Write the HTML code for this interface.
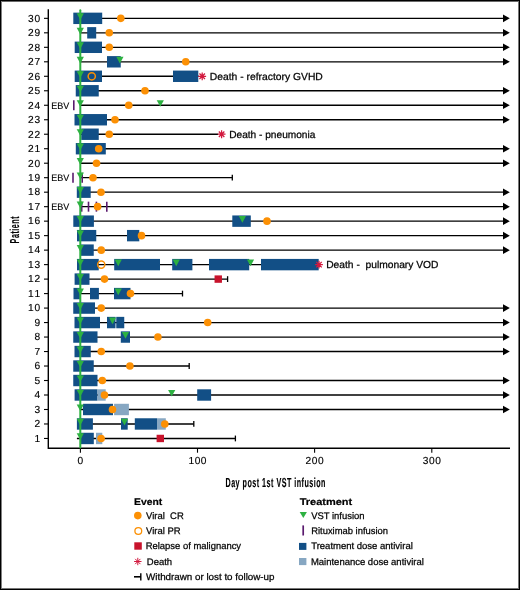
<!DOCTYPE html>
<html><head><meta charset="utf-8"><style>
html,body{margin:0;padding:0;background:#fff;}
body{width:520px;height:590px;overflow:hidden;position:relative;}
#frame{position:absolute;left:0;top:0;width:520px;height:590px;box-sizing:border-box;border-style:solid;border-color:#000;border-width:1.5px 2px 2px 1.3px;}
svg{position:absolute;left:0;top:0;will-change:transform;}
text{font-family:"Liberation Sans",sans-serif;fill:#111;text-rendering:geometricPrecision;}
.t,.lt,.e{fill:#000;stroke:#000;stroke-width:0.25px;}
.e{stroke-width:0.12px;}
.t{font-size:10.2px;}
.e{font-size:9.4px;}
.yl{font-size:10.2px;}
.yl,.xl{stroke:#000;stroke-width:0.15px;fill:#000;}
.xl{font-size:10.2px;}
.lt{font-size:9.5px;}
.lb{font-size:9.7px;font-weight:bold;fill:#000;stroke:#000;stroke-width:0.2px;}
.ax{font-size:13px;fill:#000;font-weight:bold;stroke:#000;stroke-width:0.15px;}
</style></head><body>
<svg width="520" height="590" viewBox="0 0 520 590"><g shape-rendering="crispEdges"><rect x="0" y="0" width="520" height="1" fill="#000"/><rect x="0" y="1" width="520" height="1" fill="#6a6a6a"/><rect x="0" y="0" width="1" height="590" fill="#000"/><rect x="1" y="1" width="1" height="588" fill="#808080"/><rect x="519" y="0" width="1" height="590" fill="#000"/><rect x="518" y="1" width="1" height="588" fill="#777"/><rect x="0" y="589" width="520" height="1" fill="#000"/><rect x="1" y="588" width="518" height="1" fill="#777"/></g><path d="M48.3 9.2V448.3H510" stroke="#000" stroke-width="1.4" fill="none"/><path d="M44 438.46H48.3" stroke="#000" stroke-width="1.1"/><path d="M44 423.97H48.3" stroke="#000" stroke-width="1.1"/><path d="M44 409.49H48.3" stroke="#000" stroke-width="1.1"/><path d="M44 395H48.3" stroke="#000" stroke-width="1.1"/><path d="M44 380.51H48.3" stroke="#000" stroke-width="1.1"/><path d="M44 366.02H48.3" stroke="#000" stroke-width="1.1"/><path d="M44 351.54H48.3" stroke="#000" stroke-width="1.1"/><path d="M44 337.05H48.3" stroke="#000" stroke-width="1.1"/><path d="M44 322.56H48.3" stroke="#000" stroke-width="1.1"/><path d="M44 308.08H48.3" stroke="#000" stroke-width="1.1"/><path d="M44 293.59H48.3" stroke="#000" stroke-width="1.1"/><path d="M44 279.1H48.3" stroke="#000" stroke-width="1.1"/><path d="M44 264.62H48.3" stroke="#000" stroke-width="1.1"/><path d="M44 250.13H48.3" stroke="#000" stroke-width="1.1"/><path d="M44 235.64H48.3" stroke="#000" stroke-width="1.1"/><path d="M44 221.15H48.3" stroke="#000" stroke-width="1.1"/><path d="M44 206.67H48.3" stroke="#000" stroke-width="1.1"/><path d="M44 192.18H48.3" stroke="#000" stroke-width="1.1"/><path d="M44 177.69H48.3" stroke="#000" stroke-width="1.1"/><path d="M44 163.21H48.3" stroke="#000" stroke-width="1.1"/><path d="M44 148.72H48.3" stroke="#000" stroke-width="1.1"/><path d="M44 134.23H48.3" stroke="#000" stroke-width="1.1"/><path d="M44 119.75H48.3" stroke="#000" stroke-width="1.1"/><path d="M44 105.26H48.3" stroke="#000" stroke-width="1.1"/><path d="M44 90.77H48.3" stroke="#000" stroke-width="1.1"/><path d="M44 76.28H48.3" stroke="#000" stroke-width="1.1"/><path d="M44 61.8H48.3" stroke="#000" stroke-width="1.1"/><path d="M44 47.31H48.3" stroke="#000" stroke-width="1.1"/><path d="M44 32.82H48.3" stroke="#000" stroke-width="1.1"/><path d="M44 18.34H48.3" stroke="#000" stroke-width="1.1"/><path d="M80.4 448.3V452.7" stroke="#000" stroke-width="1.1"/><path d="M197.5 448.3V452.7" stroke="#000" stroke-width="1.1"/><path d="M314.6 448.3V452.7" stroke="#000" stroke-width="1.1"/><path d="M431.8 448.3V452.7" stroke="#000" stroke-width="1.1"/><path d="M80.4 18.34H503.5" stroke="#000" stroke-width="1.35"/><path d="M80.4 32.82H503.5" stroke="#000" stroke-width="1.35"/><path d="M80.4 47.31H503.5" stroke="#000" stroke-width="1.35"/><path d="M80.4 61.8H503.5" stroke="#000" stroke-width="1.35"/><path d="M80.4 76.28H198.7" stroke="#000" stroke-width="1.35"/><path d="M80.4 90.77H503.5" stroke="#000" stroke-width="1.35"/><path d="M80.4 105.26H503.5" stroke="#000" stroke-width="1.35"/><path d="M80.4 119.75H503.5" stroke="#000" stroke-width="1.35"/><path d="M80.4 134.23H218.1" stroke="#000" stroke-width="1.35"/><path d="M80.4 148.72H503.5" stroke="#000" stroke-width="1.35"/><path d="M80.4 163.21H503.5" stroke="#000" stroke-width="1.35"/><path d="M80.4 177.69H232.3" stroke="#000" stroke-width="1.35"/><path d="M80.4 192.18H503.5" stroke="#000" stroke-width="1.35"/><path d="M80.4 206.67H503.5" stroke="#000" stroke-width="1.35"/><path d="M80.4 221.15H503.5" stroke="#000" stroke-width="1.35"/><path d="M80.4 235.64H503.5" stroke="#000" stroke-width="1.35"/><path d="M80.4 250.13H503.5" stroke="#000" stroke-width="1.35"/><path d="M80.4 264.62H315.5" stroke="#000" stroke-width="1.35"/><path d="M80.4 279.1H227.6" stroke="#000" stroke-width="1.35"/><path d="M80.4 293.59H182.5" stroke="#000" stroke-width="1.35"/><path d="M80.4 308.08H503.5" stroke="#000" stroke-width="1.35"/><path d="M80.4 322.56H503.5" stroke="#000" stroke-width="1.35"/><path d="M80.4 337.05H503.5" stroke="#000" stroke-width="1.35"/><path d="M80.4 351.54H503.5" stroke="#000" stroke-width="1.35"/><path d="M80.4 366.02H189.2" stroke="#000" stroke-width="1.35"/><path d="M80.4 380.51H503.5" stroke="#000" stroke-width="1.35"/><path d="M80.4 395H503.5" stroke="#000" stroke-width="1.35"/><path d="M80.4 409.49H503.5" stroke="#000" stroke-width="1.35"/><path d="M80.4 423.97H193.8" stroke="#000" stroke-width="1.35"/><path d="M76.9 438.46H235.4" stroke="#000" stroke-width="1.35"/><rect x="73.3" y="12.64" width="28.9" height="11.4" fill="#124f86"/><rect x="87.2" y="27.12" width="9" height="11.4" fill="#124f86"/><rect x="74.7" y="41.61" width="27.3" height="11.4" fill="#124f86"/><rect x="107" y="56.1" width="13.75" height="11.4" fill="#124f86"/><rect x="74.7" y="70.58" width="27.3" height="11.4" fill="#124f86"/><rect x="173" y="70.58" width="25.3" height="11.4" fill="#124f86"/><rect x="75.75" y="85.07" width="23" height="11.4" fill="#124f86"/><rect x="74.5" y="114.05" width="32.5" height="11.4" fill="#124f86"/><rect x="81.25" y="128.53" width="17.5" height="11.4" fill="#124f86"/><rect x="75.8" y="143.02" width="30" height="11.4" fill="#124f86"/><rect x="76.8" y="186.48" width="13.9" height="11.4" fill="#124f86"/><rect x="73.3" y="215.45" width="20.6" height="11.4" fill="#124f86"/><rect x="232.3" y="215.45" width="18.5" height="11.4" fill="#124f86"/><rect x="77" y="229.94" width="19.25" height="11.4" fill="#124f86"/><rect x="127" y="229.94" width="12.3" height="11.4" fill="#124f86"/><rect x="80" y="244.43" width="13.75" height="11.4" fill="#124f86"/><rect x="77" y="258.92" width="21.75" height="11.4" fill="#124f86"/><rect x="114.2" y="258.92" width="45.8" height="11.4" fill="#124f86"/><rect x="172.2" y="258.92" width="20.2" height="11.4" fill="#124f86"/><rect x="209" y="258.92" width="40.2" height="11.4" fill="#124f86"/><rect x="261" y="258.92" width="57.7" height="11.4" fill="#124f86"/><rect x="74.6" y="273.4" width="14.9" height="11.4" fill="#124f86"/><rect x="73.5" y="287.89" width="6.5" height="11.4" fill="#124f86"/><rect x="90" y="287.89" width="8.9" height="11.4" fill="#124f86"/><rect x="114" y="287.89" width="16.5" height="11.4" fill="#124f86"/><rect x="73.25" y="302.38" width="21.75" height="11.4" fill="#124f86"/><rect x="74.5" y="316.86" width="25.5" height="11.4" fill="#124f86"/><rect x="107" y="316.86" width="8.5" height="11.4" fill="#124f86"/><rect x="116.25" y="316.86" width="8" height="11.4" fill="#124f86"/><rect x="73.25" y="331.35" width="24.25" height="11.4" fill="#124f86"/><rect x="120.8" y="331.35" width="9.2" height="11.4" fill="#124f86"/><rect x="74.5" y="345.84" width="16.25" height="11.4" fill="#124f86"/><rect x="73.25" y="360.32" width="20.5" height="11.4" fill="#124f86"/><rect x="73.25" y="374.81" width="24.25" height="11.4" fill="#124f86"/><rect x="74.6" y="389.3" width="22.9" height="11.4" fill="#124f86"/><rect x="197.2" y="389.3" width="13.9" height="11.4" fill="#124f86"/><rect x="97.6" y="389.3" width="8.1" height="11.4" fill="#87a7c2"/><rect x="83" y="403.79" width="30" height="11.4" fill="#124f86"/><rect x="114.1" y="403.79" width="14.8" height="11.4" fill="#87a7c2"/><rect x="76.9" y="418.27" width="16" height="11.4" fill="#124f86"/><rect x="121" y="418.27" width="6.7" height="11.4" fill="#124f86"/><rect x="134.8" y="418.27" width="22.2" height="11.4" fill="#124f86"/><rect x="157" y="418.27" width="8.8" height="11.4" fill="#87a7c2"/><rect x="80" y="432.76" width="13.8" height="11.4" fill="#124f86"/><rect x="96" y="432.76" width="6.3" height="11.4" fill="#87a7c2"/><path d="M73.8 100.26V110.26" stroke="#5a1a6e" stroke-width="1.6"/><path d="M73 172.69V182.69" stroke="#5a1a6e" stroke-width="1.6"/><path d="M82.2 172.69V182.69" stroke="#5a1a6e" stroke-width="1.6"/><path d="M81.7 201.67V211.67" stroke="#5a1a6e" stroke-width="1.6"/><path d="M88.5 201.67V211.67" stroke="#5a1a6e" stroke-width="1.6"/><path d="M96.4 201.67V211.67" stroke="#5a1a6e" stroke-width="1.6"/><path d="M106.8 201.67V211.67" stroke="#5a1a6e" stroke-width="1.6"/><path d="M80.3 10.2V447.5" stroke="#2db141" stroke-width="2" stroke-linecap="round"/><path d="M76.7 433.36L83.9 433.36L80.3 440.06Z" fill="#2db141"/><path d="M76.7 418.87L83.9 418.87L80.3 425.57Z" fill="#2db141"/><path d="M76.7 404.39L83.9 404.39L80.3 411.09Z" fill="#2db141"/><path d="M76.7 389.9L83.9 389.9L80.3 396.6Z" fill="#2db141"/><path d="M76.7 375.41L83.9 375.41L80.3 382.11Z" fill="#2db141"/><path d="M76.7 360.92L83.9 360.92L80.3 367.62Z" fill="#2db141"/><path d="M76.7 346.44L83.9 346.44L80.3 353.14Z" fill="#2db141"/><path d="M76.7 331.95L83.9 331.95L80.3 338.65Z" fill="#2db141"/><path d="M76.7 317.46L83.9 317.46L80.3 324.16Z" fill="#2db141"/><path d="M76.7 302.98L83.9 302.98L80.3 309.68Z" fill="#2db141"/><path d="M76.7 288.49L83.9 288.49L80.3 295.19Z" fill="#2db141"/><path d="M76.7 274L83.9 274L80.3 280.7Z" fill="#2db141"/><path d="M76.7 259.52L83.9 259.52L80.3 266.22Z" fill="#2db141"/><path d="M76.7 245.03L83.9 245.03L80.3 251.73Z" fill="#2db141"/><path d="M76.7 230.54L83.9 230.54L80.3 237.24Z" fill="#2db141"/><path d="M76.7 216.05L83.9 216.05L80.3 222.75Z" fill="#2db141"/><path d="M76.7 201.57L83.9 201.57L80.3 208.27Z" fill="#2db141"/><path d="M76.7 187.08L83.9 187.08L80.3 193.78Z" fill="#2db141"/><path d="M76.7 172.59L83.9 172.59L80.3 179.29Z" fill="#2db141"/><path d="M76.7 158.11L83.9 158.11L80.3 164.81Z" fill="#2db141"/><path d="M76.7 143.62L83.9 143.62L80.3 150.32Z" fill="#2db141"/><path d="M76.7 129.13L83.9 129.13L80.3 135.83Z" fill="#2db141"/><path d="M76.7 114.65L83.9 114.65L80.3 121.35Z" fill="#2db141"/><path d="M76.7 100.16L83.9 100.16L80.3 106.86Z" fill="#2db141"/><path d="M76.7 85.67L83.9 85.67L80.3 92.37Z" fill="#2db141"/><path d="M76.7 71.18L83.9 71.18L80.3 77.88Z" fill="#2db141"/><path d="M76.7 56.7L83.9 56.7L80.3 63.4Z" fill="#2db141"/><path d="M76.7 42.21L83.9 42.21L80.3 48.91Z" fill="#2db141"/><path d="M76.7 27.72L83.9 27.72L80.3 34.42Z" fill="#2db141"/><path d="M76.7 13.24L83.9 13.24L80.3 19.94Z" fill="#2db141"/><path d="M503 14.54L509.8 18.34L503 22.14Z" fill="#000"/><circle cx="120.8" cy="18.34" r="3.8" fill="#fc9004"/><path d="M503 29.02L509.8 32.82L503 36.62Z" fill="#000"/><circle cx="109.25" cy="32.82" r="3.8" fill="#fc9004"/><path d="M503 43.51L509.8 47.31L503 51.11Z" fill="#000"/><circle cx="109.25" cy="47.31" r="3.8" fill="#fc9004"/><path d="M503 58L509.8 61.8L503 65.6Z" fill="#000"/><circle cx="185.75" cy="61.8" r="3.8" fill="#fc9004"/><path d="M116.3 56.7L123.5 56.7L119.9 63.4Z" fill="#2db141"/><path d="M198.3 76.28L206.1 76.28M199.44 73.53L204.96 79.04M202.2 72.38L202.2 80.18M204.96 73.53L199.44 79.04" stroke="#d2193e" stroke-width="1.25" fill="none"/><circle cx="91.75" cy="76.28" r="3.6" fill="none" stroke="#fc9004" stroke-width="1.5"/><path d="M503 86.97L509.8 90.77L503 94.57Z" fill="#000"/><circle cx="145" cy="90.77" r="3.8" fill="#fc9004"/><path d="M503 101.46L509.8 105.26L503 109.06Z" fill="#000"/><circle cx="128.75" cy="105.26" r="3.8" fill="#fc9004"/><path d="M156.7 100.16L163.9 100.16L160.3 106.86Z" fill="#2db141"/><path d="M503 115.95L509.8 119.75L503 123.55Z" fill="#000"/><circle cx="115" cy="119.75" r="3.8" fill="#fc9004"/><path d="M217.7 134.23L225.5 134.23M218.84 131.48L224.36 136.99M221.6 130.33L221.6 138.13M224.36 131.48L218.84 136.99" stroke="#d2193e" stroke-width="1.25" fill="none"/><circle cx="109.25" cy="134.23" r="3.8" fill="#fc9004"/><path d="M503 144.92L509.8 148.72L503 152.52Z" fill="#000"/><circle cx="98.7" cy="148.72" r="3.8" fill="#fc9004"/><path d="M503 159.41L509.8 163.21L503 167.01Z" fill="#000"/><circle cx="96.5" cy="163.21" r="3.8" fill="#fc9004"/><path d="M232.3 174.79V180.59" stroke="#000" stroke-width="1.3"/><circle cx="93" cy="177.69" r="3.8" fill="#fc9004"/><path d="M503 188.38L509.8 192.18L503 195.98Z" fill="#000"/><circle cx="101" cy="192.18" r="3.8" fill="#fc9004"/><path d="M503 202.87L509.8 206.67L503 210.47Z" fill="#000"/><circle cx="97.6" cy="206.67" r="3.8" fill="#fc9004"/><path d="M503 217.35L509.8 221.15L503 224.95Z" fill="#000"/><circle cx="267" cy="221.15" r="3.8" fill="#fc9004"/><path d="M238.8 216.05L246 216.05L242.4 222.75Z" fill="#2db141"/><path d="M503 231.84L509.8 235.64L503 239.44Z" fill="#000"/><circle cx="141.5" cy="235.64" r="3.8" fill="#fc9004"/><path d="M503 246.33L509.8 250.13L503 253.93Z" fill="#000"/><circle cx="101.25" cy="250.13" r="3.8" fill="#fc9004"/><path d="M315.1 264.62L322.9 264.62M316.24 261.86L321.76 267.37M319 260.72L319 268.52M321.76 261.86L316.24 267.37" stroke="#d2193e" stroke-width="1.25" fill="none"/><circle cx="101.25" cy="264.62" r="3.6" fill="none" stroke="#fc9004" stroke-width="1.5"/><path d="M114.65 259.52L121.85 259.52L118.25 266.22Z" fill="#2db141"/><path d="M172.65 259.52L179.85 259.52L176.25 266.22Z" fill="#2db141"/><path d="M246.9 259.52L254.1 259.52L250.5 266.22Z" fill="#2db141"/><path d="M227.6 276.2V282" stroke="#000" stroke-width="1.3"/><rect x="214.55" y="275.4" width="7.4" height="7.4" fill="#c8132c"/><circle cx="104.5" cy="279.1" r="3.8" fill="#fc9004"/><path d="M182.5 290.69V296.49" stroke="#000" stroke-width="1.3"/><circle cx="130.5" cy="293.59" r="3.8" fill="#fc9004"/><path d="M114.65 288.49L121.85 288.49L118.25 295.19Z" fill="#2db141"/><path d="M503 304.28L509.8 308.08L503 311.88Z" fill="#000"/><circle cx="101.25" cy="308.08" r="3.8" fill="#fc9004"/><path d="M503 318.76L509.8 322.56L503 326.36Z" fill="#000"/><circle cx="207.7" cy="322.56" r="3.8" fill="#fc9004"/><path d="M108.9 317.46L116.1 317.46L112.5 324.16Z" fill="#2db141"/><path d="M503 333.25L509.8 337.05L503 340.85Z" fill="#000"/><circle cx="157.9" cy="337.05" r="3.8" fill="#fc9004"/><path d="M121.9 331.95L129.1 331.95L125.5 338.65Z" fill="#2db141"/><path d="M503 347.74L509.8 351.54L503 355.34Z" fill="#000"/><circle cx="101.25" cy="351.54" r="3.8" fill="#fc9004"/><path d="M189.2 363.12V368.92" stroke="#000" stroke-width="1.3"/><circle cx="129.9" cy="366.02" r="3.8" fill="#fc9004"/><path d="M503 376.71L509.8 380.51L503 384.31Z" fill="#000"/><circle cx="102.3" cy="380.51" r="3.8" fill="#fc9004"/><path d="M503 391.2L509.8 395L503 398.8Z" fill="#000"/><circle cx="104.5" cy="395" r="3.8" fill="#fc9004"/><path d="M168.1 389.9L175.3 389.9L171.7 396.6Z" fill="#2db141"/><path d="M503 405.69L509.8 409.49L503 413.29Z" fill="#000"/><circle cx="112.5" cy="409.49" r="3.8" fill="#fc9004"/><path d="M193.8 421.07V426.87" stroke="#000" stroke-width="1.3"/><circle cx="164.8" cy="423.97" r="3.8" fill="#fc9004"/><path d="M120.9 418.87L128.1 418.87L124.5 425.57Z" fill="#2db141"/><path d="M235.4 435.56V441.36" stroke="#000" stroke-width="1.3"/><rect x="156.6" y="434.76" width="7.4" height="7.4" fill="#c8132c"/><circle cx="101.1" cy="438.46" r="3.8" fill="#fc9004"/><text x="209.8" y="79.88" class="t" textLength="113" lengthAdjust="spacingAndGlyphs">Death - refractory GVHD</text><text x="51.2" y="108.86" class="e" textLength="18" lengthAdjust="spacingAndGlyphs">EBV</text><text x="229.2" y="137.83" class="t" textLength="86.2" lengthAdjust="spacingAndGlyphs">Death - pneumonia</text><text x="51.2" y="181.29" class="e" textLength="18" lengthAdjust="spacingAndGlyphs">EBV</text><text x="51.2" y="210.27" class="e" textLength="18" lengthAdjust="spacingAndGlyphs">EBV</text><text x="326.2" y="268.22" class="t" textLength="112.3" lengthAdjust="spacingAndGlyphs">Death -&#160; pulmonary VOD</text><text x="40.1" y="441.76" class="yl" text-anchor="end" textLength="6.01" lengthAdjust="spacing">1</text><text x="40.1" y="427.27" class="yl" text-anchor="end" textLength="6.01" lengthAdjust="spacing">2</text><text x="40.1" y="412.79" class="yl" text-anchor="end" textLength="6.01" lengthAdjust="spacing">3</text><text x="40.1" y="398.3" class="yl" text-anchor="end" textLength="6.01" lengthAdjust="spacing">4</text><text x="40.1" y="383.81" class="yl" text-anchor="end" textLength="6.01" lengthAdjust="spacing">5</text><text x="40.1" y="369.32" class="yl" text-anchor="end" textLength="6.01" lengthAdjust="spacing">6</text><text x="40.1" y="354.84" class="yl" text-anchor="end" textLength="6.01" lengthAdjust="spacing">7</text><text x="40.1" y="340.35" class="yl" text-anchor="end" textLength="6.01" lengthAdjust="spacing">8</text><text x="40.1" y="325.86" class="yl" text-anchor="end" textLength="6.01" lengthAdjust="spacing">9</text><text x="40.1" y="311.38" class="yl" text-anchor="end" textLength="12.02" lengthAdjust="spacing">10</text><text x="40.1" y="296.89" class="yl" text-anchor="end" textLength="12.02" lengthAdjust="spacing">11</text><text x="40.1" y="282.4" class="yl" text-anchor="end" textLength="12.02" lengthAdjust="spacing">12</text><text x="40.1" y="267.92" class="yl" text-anchor="end" textLength="12.02" lengthAdjust="spacing">13</text><text x="40.1" y="253.43" class="yl" text-anchor="end" textLength="12.02" lengthAdjust="spacing">14</text><text x="40.1" y="238.94" class="yl" text-anchor="end" textLength="12.02" lengthAdjust="spacing">15</text><text x="40.1" y="224.45" class="yl" text-anchor="end" textLength="12.02" lengthAdjust="spacing">16</text><text x="40.1" y="209.97" class="yl" text-anchor="end" textLength="12.02" lengthAdjust="spacing">17</text><text x="40.1" y="195.48" class="yl" text-anchor="end" textLength="12.02" lengthAdjust="spacing">18</text><text x="40.1" y="180.99" class="yl" text-anchor="end" textLength="12.02" lengthAdjust="spacing">19</text><text x="40.1" y="166.51" class="yl" text-anchor="end" textLength="12.02" lengthAdjust="spacing">20</text><text x="40.1" y="152.02" class="yl" text-anchor="end" textLength="12.02" lengthAdjust="spacing">21</text><text x="40.1" y="137.53" class="yl" text-anchor="end" textLength="12.02" lengthAdjust="spacing">22</text><text x="40.1" y="123.05" class="yl" text-anchor="end" textLength="12.02" lengthAdjust="spacing">23</text><text x="40.1" y="108.56" class="yl" text-anchor="end" textLength="12.02" lengthAdjust="spacing">24</text><text x="40.1" y="94.07" class="yl" text-anchor="end" textLength="12.02" lengthAdjust="spacing">25</text><text x="40.1" y="79.58" class="yl" text-anchor="end" textLength="12.02" lengthAdjust="spacing">26</text><text x="40.1" y="65.1" class="yl" text-anchor="end" textLength="12.02" lengthAdjust="spacing">27</text><text x="40.1" y="50.61" class="yl" text-anchor="end" textLength="12.02" lengthAdjust="spacing">28</text><text x="40.1" y="36.12" class="yl" text-anchor="end" textLength="12.02" lengthAdjust="spacing">29</text><text x="40.1" y="21.64" class="yl" text-anchor="end" textLength="12.02" lengthAdjust="spacing">30</text><text x="80.4" y="464.2" class="xl" text-anchor="middle" textLength="6.01" lengthAdjust="spacing">0</text><text x="197.5" y="464.2" class="xl" text-anchor="middle" textLength="18.03" lengthAdjust="spacing">100</text><text x="314.6" y="464.2" class="xl" text-anchor="middle" textLength="18.03" lengthAdjust="spacing">200</text><text x="431.8" y="464.2" class="xl" text-anchor="middle" textLength="18.03" lengthAdjust="spacing">300</text><text transform="translate(225.5 486.8) scale(0.55 1)" x="0" y="0" class="ax" textLength="181.82" lengthAdjust="spacing">Day post 1st VST infusion</text><text transform="translate(19.3 243.4) rotate(-90) scale(0.55 1)" x="0" y="0" class="ax" textLength="49.09" lengthAdjust="spacing">Patient</text><text x="134" y="504.9" class="lb" textLength="28.2" lengthAdjust="spacingAndGlyphs">Event</text><circle cx="137.8" cy="515.6" r="3.8" fill="#fc9004"/><text x="146.1" y="519.1" class="lt" textLength="37.7" lengthAdjust="spacingAndGlyphs">Viral&#160; CR</text><circle cx="138.3" cy="531" r="3.4" fill="none" stroke="#fc9004" stroke-width="1.3"/><text x="146.1" y="534.2" class="lt" textLength="34.6" lengthAdjust="spacingAndGlyphs">Viral PR</text><rect x="134.3" y="542.3" width="7.5" height="7.4" fill="#c8132c"/><text x="145.7" y="549.1" class="lt" textLength="95.4" lengthAdjust="spacingAndGlyphs">Relapse of malignancy</text><path d="M134.1 561.5L141.5 561.5M135.18 558.88L140.42 564.12M137.8 557.8L137.8 565.2M140.42 558.88L135.18 564.12" stroke="#d2193e" stroke-width="1.0" fill="none"/><text x="146.8" y="564.9" class="lt" textLength="25.3" lengthAdjust="spacingAndGlyphs">Death</text><path d="M134 576.8H141" stroke="#000" stroke-width="1.6"/><path d="M140.8 573.3V580.4" stroke="#000" stroke-width="1.4"/><text x="146" y="579.9" class="lt" textLength="128.5" lengthAdjust="spacingAndGlyphs">Withdrawn or lost to follow-up</text><text x="299.7" y="504.8" class="lb" textLength="52.5" lengthAdjust="spacingAndGlyphs">Treatment</text><path d="M299.7 511.9H306.9L303.3 517.9Z" fill="#2db141"/><text x="311.2" y="518.6" class="lt" textLength="53.4" lengthAdjust="spacingAndGlyphs">VST infusion</text><path d="M303.2 525.4V535.5" stroke="#5a1a6e" stroke-width="1.7"/><text x="311.2" y="534.1" class="lt" textLength="76.8" lengthAdjust="spacingAndGlyphs">Rituximab infusion</text><rect x="299" y="542.9" width="7.4" height="7" fill="#124f86"/><text x="311.2" y="549.3" class="lt" textLength="101.6" lengthAdjust="spacingAndGlyphs">Treatment dose antiviral</text><rect x="299" y="558" width="7.4" height="7.1" fill="#87a7c2"/><text x="310.9" y="564.7" class="lt" textLength="112.9" lengthAdjust="spacingAndGlyphs">Maintenance dose antiviral</text></svg>
</body></html>
